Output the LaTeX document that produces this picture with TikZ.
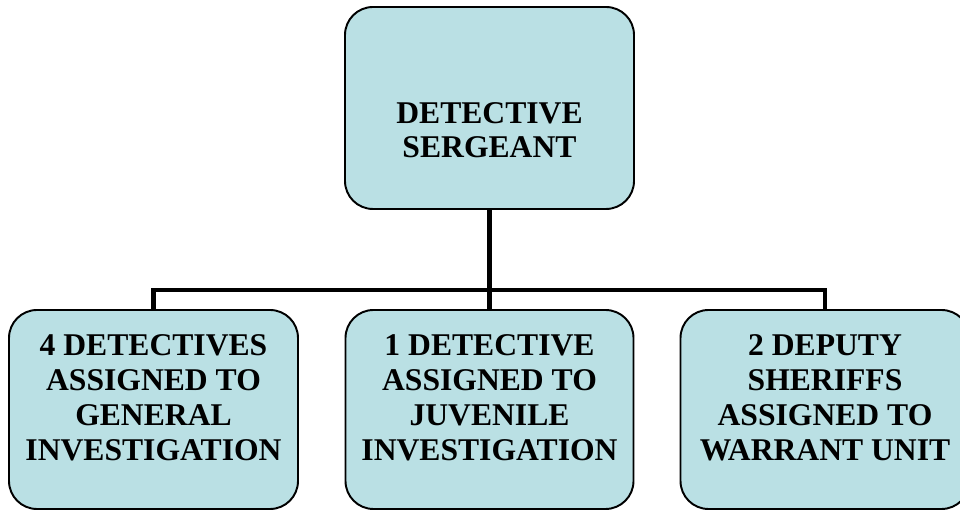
\documentclass[tikz,border=0pt]{standalone}
\usepackage{fontspec}
\setmainfont{Liberation Serif}
\usepackage{tikz}
\usetikzlibrary{shapes,positioning}
\usepackage{xcolor}
\definecolor{bleuposte}{RGB}{186,224,228}
\tikzstyle{poste}=[draw, line width=1.1pt, rounded corners=0.56cm, fill=bleuposte, minimum width=5.78cm, minimum height=3.98cm, inner sep=0pt]
\tikzstyle{titre}=[align=center, inner sep=0pt, font=\bfseries\fontsize{18}{20}\selectfont]
\tikzstyle{liaison}=[line width=2.8pt]

\begin{document}
\begin{tikzpicture}

\clip (0,0) rectangle (19.2,10.2);

% chef
\node[poste, minimum height=4.04cm] (sergeant) at (9.79,8.04) {};
\node[titre, font=\bfseries\fontsize{18}{19}\selectfont] (tsergeant) at ([yshift=-0.44cm]sergeant.center) {DETECTIVE\\SERGEANT};

% equipes
\node[poste] (general) at (3.07,2.01) {};
\node[poste, minimum width=5.76cm] (juvenile) at (9.79,2.01) {};
\node[poste] (warrant) at (16.5,2.01) {};

\node[titre] (tgeneral) at ([yshift=0.23cm]general.center) {4 DETECTIVES\\ASSIGNED TO\\GENERAL\\INVESTIGATION};
\node[titre] (tjuvenile) at ([yshift=0.23cm]juvenile.center) {1 DETECTIVE\\ASSIGNED TO\\JUVENILE\\INVESTIGATION};
\node[titre] (twarrant) at ([yshift=0.23cm]warrant.center) {2 DEPUTY\\SHERIFFS\\ASSIGNED TO\\WARRANT UNIT};

% liaisons
\coordinate (bus) at (9.79,4.4);
\draw[liaison] (sergeant.south) -- (juvenile.north);
\draw[liaison] (general.north) |- (bus) -| (warrant.north);

\end{tikzpicture}
\end{document}
